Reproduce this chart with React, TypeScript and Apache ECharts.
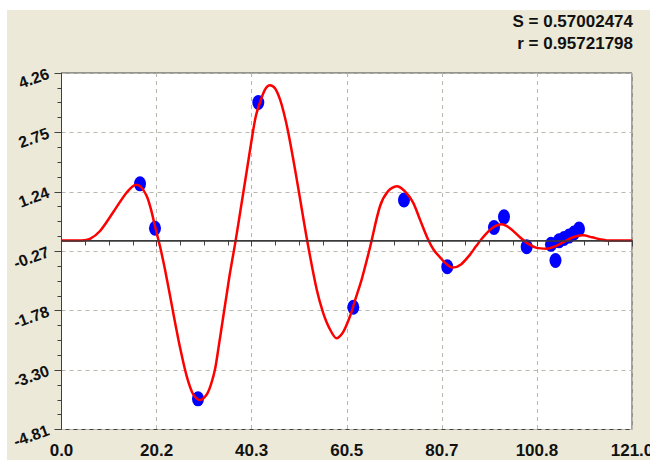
import React, { useEffect, useRef } from "react";
import * as echarts from "echarts";

// Axis setup
const xMin = 0;
const xMax = 121;
const xTickLabels = ["0.0", "20.2", "40.3", "60.5", "80.7", "100.8", "121.0"];
const yMin = -4.81;
const yMax = 4.26;
const yTickLabels = ["-4.81", "-3.30", "-1.78", "-0.27", "1.24", "2.75", "4.26"];

// Statistics shown at the top right
const statLines = ["S = 0.57002474", "r = 0.95721798"];

// Observed points
const pointX = [16.65, 19.83, 28.95, 41.74, 61.89, 72.64, 81.82, 91.73, 93.85, 98.66, 103.82, 104.77, 105.51, 106.58, 107.64, 108.7, 109.76];
const pointY = [1.44, 0.31, -4.03, 3.51, -1.7, 1.03, -0.67, 0.33, 0.6, -0.16, -0.1, -0.51, -0.01, 0.05, 0.11, 0.19, 0.29];

// Fitted curve
const curveX = [0, 4.28, 6.04, 8.17, 10.92, 13.83, 15.8, 16.86, 18.07, 18.98, 19.83, 20.89, 21.95, 23.37, 24.28, 25.13, 26.55, 27.95, 29.37, 30.8, 31.71, 32.56, 33.4, 34.32, 35.1, 35.74, 36.8, 37.86, 39.28, 40.61, 41.25, 42.1, 43.16, 44.22, 45.28, 46.34, 47.19, 48.04, 49.16, 50.33, 52.13, 54.13, 55.46, 56.73, 58.37, 59.7, 61.19, 62.46, 63.67, 65.43, 67.55, 69.25, 71.09, 72.85, 74.55, 76.03, 77.73, 79.0, 80.28, 81.55, 83.03, 84.73, 86.64, 87.91, 89.4, 91.3, 93.36, 95.12, 97.24, 98.94, 100.79, 102.91, 104.67, 106.36, 108.48, 110.6, 112.51, 114.21, 115.63, 121];
const curveY = [0, 0, 0.04, 0.24, 0.71, 1.22, 1.42, 1.36, 1.13, 0.79, 0.36, -0.15, -0.74, -1.63, -2.21, -2.72, -3.45, -3.92, -4.06, -3.92, -3.66, -3.28, -2.65, -1.93, -1.32, -0.82, -0.1, 0.69, 1.76, 2.77, 3.18, 3.51, 3.84, 3.95, 3.87, 3.59, 3.23, 2.78, 2.06, 1.25, -0.02, -1.25, -1.83, -2.21, -2.49, -2.34, -1.93, -1.45, -0.99, -0.18, 0.87, 1.25, 1.38, 1.25, 0.97, 0.53, 0.03, -0.25, -0.43, -0.59, -0.69, -0.61, -0.36, -0.15, 0.08, 0.31, 0.41, 0.31, 0.08, -0.08, -0.19, -0.21, -0.15, -0.05, 0.08, 0.13, 0.08, 0.03, 0, 0];

const FONT = "'Liberation Sans', Arial, sans-serif";

export default function App() {
  const ref = useRef<HTMLDivElement>(null);
  useEffect(() => {
    if (!ref.current) return;
    const chart = echarts.init(ref.current, undefined, { renderer: "svg" });
    const xStep = (xMax - xMin) / 6;
    const yStep = (yMax - yMin) / 6;
    chart.setOption({
      animation: false,
      backgroundColor: "transparent",
      textStyle: { fontFamily: FONT },
      grid: {
        left: 61.5,
        right: 18,
        top: 73,
        bottom: 30.5,
        outerBoundsMode: "none",
        containLabel: false,
        show: true,
        backgroundColor: "#ffffff",
        borderColor: "#404040",
        borderWidth: 1,
      },
      graphic: statLines.map((t, i) => ({
        type: "text",
        right: 17,
        top: 13 + i * 22,
        style: {
          text: t,
          fill: "#111",
          font: `bold 17px ${FONT}`,
          align: "right",
        },
      })),
      xAxis: {
        type: "value",
        min: xMin,
        max: xMax,
        interval: xStep,
        axisLine: { show: true, lineStyle: { color: "#404040", width: 1 } },
        axisTick: { show: true, length: 6, lineStyle: { color: "#404040" } },
        minorTick: { show: true, splitNumber: 4, length: 5, lineStyle: { color: "#404040" } },
        splitLine: { show: true, lineStyle: { color: "#b8b8ae", type: [4, 4], width: 1 } },
        axisLabel: {
          show: true,
          margin: 12,
          fontSize: 17,
          fontWeight: "bold",
          color: "#111",
          fontFamily: FONT,
          hideOverlap: false,
          showMinLabel: true,
          showMaxLabel: true,
          formatter: (v: number) => xTickLabels[Math.round((v - xMin) / xStep)] ?? "",
        },
      },
      yAxis: {
        type: "value",
        min: yMin,
        max: yMax,
        interval: yStep,
        axisLine: { show: true, lineStyle: { color: "#404040", width: 1 } },
        axisTick: { show: true, length: 7, lineStyle: { color: "#404040" } },
        minorTick: { show: true, splitNumber: 4, length: 4, lineStyle: { color: "#404040" } },
        splitLine: { show: true, lineStyle: { color: "#b8b8ae", type: [4, 4], width: 1 } },
        axisLabel: {
          show: true,
          margin: 13,
          rotate: 20,
          fontSize: 16,
          fontWeight: "bold",
          color: "#111",
          fontFamily: FONT,
          hideOverlap: false,
          showMinLabel: true,
          showMaxLabel: true,
          formatter: (v: number) => yTickLabels[Math.round((v - yMin) / yStep)] ?? "",
        },
      },
      series: [
        {
          type: "scatter",
          data: [],
          z: 1,
          silent: true,
          markLine: {
            silent: true,
            symbol: "none",
            label: { show: false },
            lineStyle: { color: "#3a3a3a", width: 1.5, type: "solid" },
            data: [{ yAxis: 0 }],
          },
        },
        {
          type: "scatter",
          z: 2,
          symbol: "path://M0,-1A1,1,0,1,1,0,1A1,1,0,1,1,0,-1Z",
          symbolSize: [12, 15],
          itemStyle: { color: "#0000ff", opacity: 1 },
          data: pointX.map((x, i) => [x, pointY[i]]),
        },
        {
          type: "line",
          z: 3,
          smooth: 0.3,
          showSymbol: false,
          symbol: "none",
          lineStyle: { color: "#ff0000", width: 2.5 },
          data: curveX.map((x, i) => [x, curveY[i]]),
        },
      ],
    });
    return () => chart.dispose();
  }, []);

  return (
    <div style={{ position: "absolute", left: 0, top: 0, width: 650, height: 460, background: "#ffffff", overflow: "hidden" }}>
      <div style={{ position: "absolute", left: 7, top: 10, width: 643, height: 450, background: "#ECE9D8" }} />
      <div ref={ref} style={{ position: "absolute", left: 0, top: 0, width: 650, height: 460 }} />
    </div>
  );
}
